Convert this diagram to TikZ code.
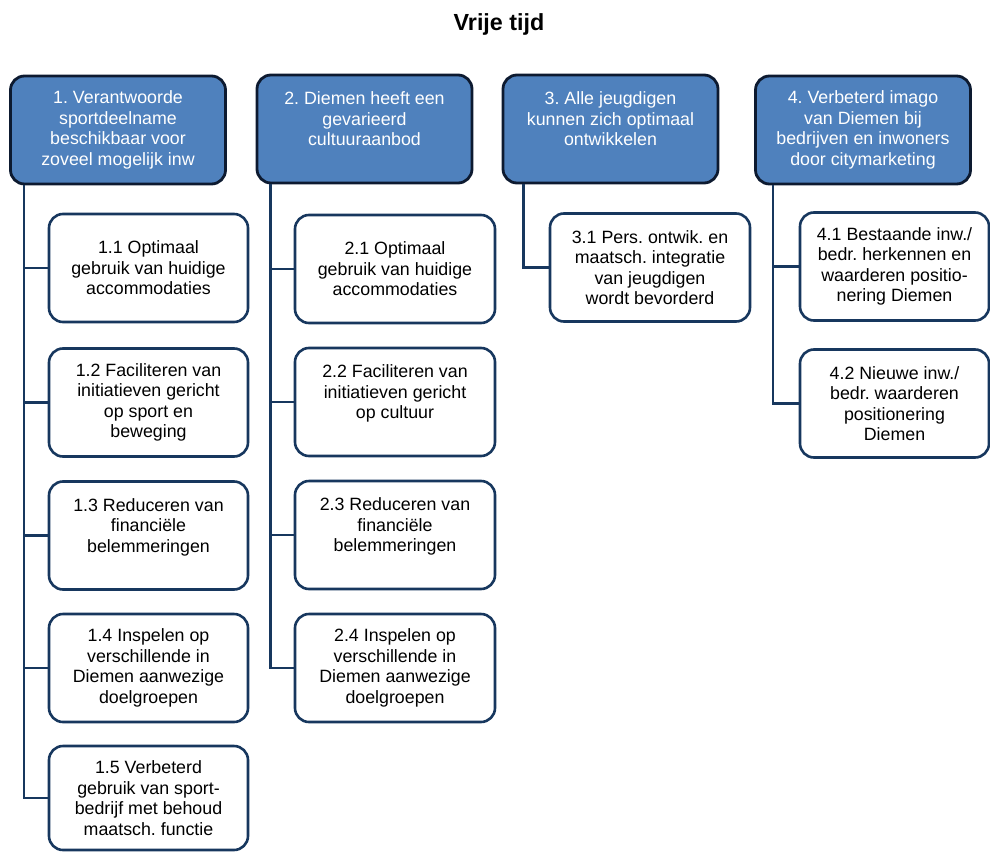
\documentclass[tikz,border=0pt]{standalone}
\usepackage{fontspec}
\setmainfont{Liberation Sans}
\definecolor{topfill}{HTML}{4F81BD}
\definecolor{topborder}{HTML}{0D1A30}
\definecolor{subborder}{HTML}{17375E}
\definecolor{linkcol}{HTML}{17375E}
\frenchspacing
\begin{document}
\begin{tikzpicture}[x=1pt,y=-1pt,
  boxfont/.style={font=\fontsize{17.8}{20.5}\selectfont},
  topbox/.style={boxfont, draw=topborder, line width=2.8pt, rounded corners=14pt,
    fill=topfill, text=white, minimum width=215pt, minimum height=108pt,
    align=center, inner sep=0pt},
  subbox/.style={boxfont, draw=subborder, line width=2.6pt, rounded corners=14pt,
    fill=white, text=black, minimum width=199pt, minimum height=108pt,
    align=center, inner sep=0pt},
  link/.style={draw=linkcol, line width=2.6pt}]
\useasboundingbox (0,0) rectangle (990,851);

\node[font=\bfseries\fontsize{23.3}{28}\selectfont] (title) at (499,24) {Vrije tijd};

% top level
\node[topbox] (T1) at (118,130) {1. Verantwoorde\\sportdeelname\\beschikbaar voor\\zoveel mogelijk inw};
\node[topbox] (T2) at (364.5,129) {2. Diemen heeft een\\gevarieerd\\cultuuraanbod\\\mbox{}};
\node[topbox] (T3) at (610.5,129) {3. Alle jeugdigen\\kunnen zich optimaal\\ontwikkelen\\\mbox{}};
\node[topbox] (T4) at (863,130) {4. Verbeterd imago\\van Diemen bij\\bedrijven en inwoners\\door citymarketing};

% column 1
\node[subbox] (S11) at (148.5,268) {1.1 Optimaal\\gebruik van huidige\\accommodaties};
\node[subbox] (S12) at (148.5,402.5) {1.2 Faciliteren van\\initiatieven gericht\\op sport en\\beweging};
\node[subbox] (S13) at (148.5,535.5) {1.3 Reduceren van\\financiële\\belemmeringen\\\mbox{}};
\node[subbox] (S14) at (148.5,668) {1.4 Inspelen op\\verschillende in\\Diemen aanwezige\\doelgroepen};
\node[subbox, minimum height=104pt] (S15) at (148.5,798) {1.5 Verbeterd\\gebruik van sport-\\bedrijf met behoud\\maatsch. functie};

% column 2
\node[subbox, minimum width=200pt] (S21) at (395,269) {2.1 Optimaal\\gebruik van huidige\\accommodaties};
\node[subbox, minimum width=200pt] (S22) at (395,402) {2.2 Faciliteren van\\initiatieven gericht\\op cultuur\\\mbox{}};
\node[subbox, minimum width=200pt] (S23) at (395,535) {2.3 Reduceren van\\financiële\\belemmeringen\\\mbox{}};
\node[subbox, minimum width=200pt] (S24) at (395,668) {2.4 Inspelen op\\verschillende in\\Diemen aanwezige\\doelgroepen};

% column 3
\node[subbox, minimum width=200pt] (S31) at (650,267.5) {3.1 Pers. ontwik. en\\maatsch. integratie\\van jeugdigen\\wordt bevorderd};

% column 4
\node[subbox, minimum width=189pt] (S41) at (894.5,266.5) {4.1 Bestaande inw./\\bedr. herkennen en\\waarderen positio-\\nering Diemen};
\node[subbox, minimum width=189pt] (S42) at (894.5,403.5) {4.2 Nieuwe inw./\\bedr. waarderen\\positionering\\Diemen};

% connectors
\foreach \s in {S11,S12,S13,S14,S15}
  \draw[link] ([xshift=15pt]T1.south west) |- (\s.west);
\foreach \s in {S21,S22,S23,S24}
  \draw[link] ([xshift=15pt]T2.south west) |- (\s.west);
\draw[link] ([xshift=22pt]T3.south west) |- (S31.west);
\foreach \s in {S41,S42}
  \draw[link] ([xshift=19pt]T4.south west) |- (\s.west);
\end{tikzpicture}
\end{document}
